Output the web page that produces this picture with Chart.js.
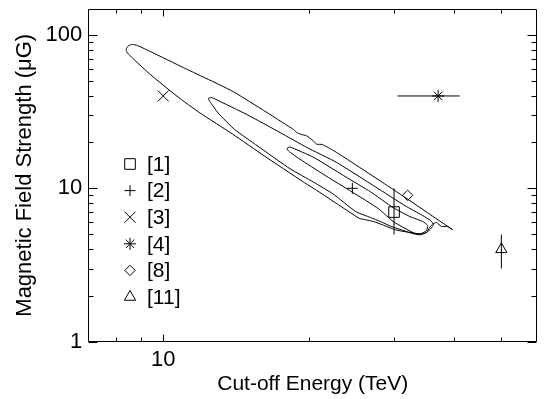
<!DOCTYPE html>
<html>
<head>
<meta charset="utf-8">
<script src="https://cdn.jsdelivr.net/npm/chart.js@4.4.1/dist/chart.umd.min.js"></script>
<style>
  html, body { margin: 0; padding: 0; background: #fff; }
</style>
</head>
<body>
<canvas id="chart" width="546" height="399"></canvas>
<script>
// axis ranges / ticks
const energyMin = 7, energyMax = 59.3;
const fieldMin = 1, fieldMax = 148;
const energyTicks = [8, 9, 10, 20, 30, 40, 50];
const energyLabels = [10];
const fieldTicks = [1, 2, 3, 4, 5, 6, 7, 8, 9, 10, 20, 30, 40, 50, 60, 70, 80, 90, 100];
const fieldLabels = [1, 10, 100];

// published estimates (cut-off energy in TeV, field in microgauss)
const refNames = ['[1]', '[2]', '[3]', '[4]', '[8]', '[11]'];
const refEnergy = [30, 24.6, 10, 37, 32, 50];
const refField = [7, 10, 40, 40, 9, 4];
const refEnergyErr = [null, null, null, [30.5, 41], null, null];
const refFieldErr = [[5, 10], null, null, null, null, [3, 5]];

// confidence contours, traced as closed loops
const outerEnergy = [8.377, 8.476, 8.636, 8.842, 9.441, 11.02, 13.93, 18.59, 18.88, 19.24, 19.78, 20.42, 20.73, 21.32, 22.78, 29.69, 39.63, 38.67, 37.59, 36.72, 36.04, 35.53, 35.03, 34.06, 32.82, 31.31, 30.16, 28.37, 27.21, 26.21, 25.40, 20.73, 19.48, 16.16, 13.93, 11.91, 10.68, 9.428, 8.584, 8.408];
const outerField = [80.8, 85.1, 86.7, 85.3, 77.5, 61.1, 42.8, 24.2, 23.1, 22.5, 22.0, 20.4, 19.4, 19.3, 17.2, 9.96, 5.373, 5.643, 5.643, 5.986, 5.854, 5.559, 5.162, 5.011, 5.124, 5.239, 5.373, 5.786, 6.075, 6.231, 6.381, 9.723, 11.0, 16.3, 22.5, 31.0, 39.8, 54.8, 72.0, 77.3];
const midEnergy = [12.39, 12.56, 12.80, 14.94, 17.44, 19.78, 22.78, 27.47, 31.61, 34.39, 35.70, 36.21, 35.70, 35.03, 33.90, 32.66, 30.87, 29.60, 28.11, 26.83, 25.01, 22.43, 20.42, 18.30, 15.66, 14.04, 12.98, 12.48];
const midField = [38.5, 39.1, 38.2, 30.1, 23.1, 18.5, 14.8, 10.21, 7.703, 6.642, 6.167, 5.811, 5.437, 5.162, 4.974, 5.086, 5.396, 5.643, 6.075, 6.448, 7.047, 9.203, 11.0, 13.39, 18.9, 24.2, 31.0, 36.9];
const innerEnergy = [18.01, 18.27, 20.45, 23.87, 26.83, 29.88, 32.36, 34.39, 35.20, 35.03, 34.23, 33.12, 31.61, 29.88, 27.85, 24.55, 21.39, 19.17, 18.16];
const innerField = [18.2, 18.6, 15.93, 11.84, 9.480, 7.478, 6.544, 6.075, 5.726, 5.318, 5.086, 5.086, 5.478, 6.075, 7.369, 9.48, 12.38, 15.47, 17.5];

// marker look for each reference
const markerStyle = ['rect', 'cross', 'crossRot', 'star', 'rectRot', 'triangle'];
const markerSize = [7.5, 5.5, 7.8, 6, 5.2, 6.5];

const FONT = "'Liberation Sans', Arial, Helvetica, sans-serif";

function loop(xs, ys) {
  const pts = xs.map((x, i) => ({ x: x, y: ys[i] }));
  pts.push(pts[0]);
  return pts;
}

function contourSet(xs, ys) {
  return {
    data: loop(xs, ys),
    showLine: true,
    borderColor: '#000',
    borderWidth: 1,
    pointRadius: 0,
    tension: 0.15,
    fill: false
  };
}

const datasets = [
  contourSet(outerEnergy, outerField),
  contourSet(midEnergy, midField),
  contourSet(innerEnergy, innerField)
];

// error bars
refNames.forEach((name, i) => {
  const ex = refEnergyErr[i], ey = refFieldErr[i];
  if (ex) datasets.push({ data: [{ x: ex[0], y: refField[i] }, { x: ex[1], y: refField[i] }], showLine: true, borderColor: '#000', borderWidth: 1, pointRadius: 0 });
  if (ey) datasets.push({ data: [{ x: refEnergy[i], y: ey[0] }, { x: refEnergy[i], y: ey[1] }], showLine: true, borderColor: '#000', borderWidth: 1, pointRadius: 0 });
});

// markers
refNames.forEach((name, i) => {
  datasets.push({
    label: name,
    data: [{ x: refEnergy[i], y: refField[i] }],
    pointStyle: markerStyle[i],
    pointRadius: markerSize[i],
    pointBorderColor: '#000',
    pointBackgroundColor: 'rgba(0,0,0,0)',
    pointBorderWidth: 1,
    showLine: false
  });
});

function drawMarker(ctx, style, r, x, y) {
  if (Chart.helpers && Chart.helpers.drawPoint) {
    Chart.helpers.drawPoint(ctx, { pointStyle: style, radius: r, borderWidth: 1, rotation: 0 }, x, y);
  }
}

// box with inward ticks on all four sides + legend inside the plot
const frameTicks = {
  id: 'frameTicks',
  afterDraw(chart) {
    const ctx = chart.ctx, a = chart.chartArea;
    const xs = chart.scales.x, ys = chart.scales.y;
    const L = Math.round(a.left) + 0.5, R = Math.round(a.right) - 0.5;
    const T = Math.round(a.top) + 0.5, B = Math.round(a.bottom) - 0.5;
    ctx.save();
    ctx.strokeStyle = '#000';
    ctx.lineWidth = 1;
    ctx.beginPath();
    ctx.rect(L, T, R - L, B - T);
    energyTicks.forEach(v => {
      const px = Math.round(xs.getPixelForValue(v)) + 0.5;
      const len = energyLabels.includes(v) ? 7 : 4;
      ctx.moveTo(px, B); ctx.lineTo(px, B - len);
      ctx.moveTo(px, T); ctx.lineTo(px, T + len);
    });
    fieldTicks.forEach(v => {
      const py = Math.round(ys.getPixelForValue(v)) + 0.5;
      const len = fieldLabels.includes(v) ? 9 : 5;
      ctx.moveTo(L, py); ctx.lineTo(L + len, py);
      ctx.moveTo(R, py); ctx.lineTo(R - len, py);
    });
    ctx.stroke();

    // legend
    ctx.font = '21px ' + FONT;
    ctx.textBaseline = 'middle';
    ctx.textAlign = 'left';
    refNames.forEach((name, i) => {
      const ly = 164 + i * 26.6;
      ctx.strokeStyle = '#000';
      ctx.fillStyle = 'rgba(0,0,0,0)';
      drawMarker(ctx, markerStyle[i], markerSize[i], 130, ly);
      ctx.fillStyle = '#000';
      ctx.fillText(name, 147, ly + 1);
    });
    ctx.restore();
  }
};

new Chart(document.getElementById('chart'), {
  type: 'scatter',
  data: { datasets: datasets },
  plugins: [frameTicks],
  options: {
    responsive: false,
    animation: false,
    layout: { padding: { top: 4, right: 2, left: 0, bottom: 0 } },
    plugins: { legend: { display: false }, tooltip: { enabled: false } },
    scales: {
      x: {
        type: 'logarithmic',
        min: energyMin,
        max: energyMax,
        grid: { display: false, drawTicks: false },
        border: { display: false },
        afterBuildTicks: s => { s.ticks = energyTicks.map(v => ({ value: v })); },
        afterFit: s => { s.height = 57.3; s.paddingLeft = 0; s.paddingRight = 0; },
        ticks: {
          autoSkip: false,
          maxRotation: 0,
          padding: 5,
          color: '#000',
          font: { family: FONT, size: 22 },
          callback: v => energyLabels.includes(v) ? String(v) : ''
        },
        title: {
          display: true,
          text: 'Cut-off Energy (TeV)',
          color: '#000',
          font: { family: FONT, size: 21 },
          padding: { top: 0, bottom: 2 }
        }
      },
      y: {
        type: 'logarithmic',
        min: fieldMin,
        max: fieldMax,
        grid: { display: false, drawTicks: false },
        border: { display: false },
        afterBuildTicks: s => { s.ticks = fieldTicks.map(v => ({ value: v })); },
        afterFit: s => { s.width = 88.3; s.paddingTop = 0; s.paddingBottom = 0; },
        ticks: {
          autoSkip: false,
          padding: 6,
          color: '#000',
          font: { family: FONT, size: 22 },
          callback: v => fieldLabels.includes(v) ? String(v) : ''
        },
        title: {
          display: true,
          text: 'Magnetic Field Strength (μG)',
          color: '#000',
          font: { family: FONT, size: 22 },
          padding: { top: 12, bottom: 0 }
        }
      }
    }
  }
});
</script>
</body>
</html>
